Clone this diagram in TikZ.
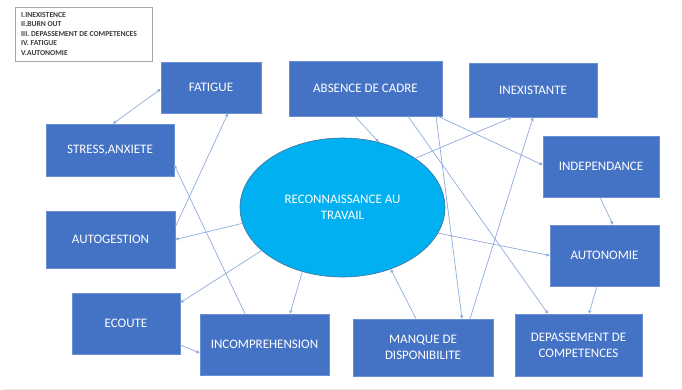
\documentclass[tikz,border=0pt]{standalone}
\usepackage{fontspec}
\setmainfont{Carlito}
\usetikzlibrary{arrows.meta,shapes.geometric}
\definecolor{boxblue}{HTML}{4472C4}
\definecolor{boxedge}{HTML}{6A8FD4}
\definecolor{elfill}{HTML}{00B0F0}
\definecolor{eledge}{HTML}{41719C}
\definecolor{linkc}{HTML}{8FAADC}
\definecolor{rulegray}{HTML}{E6E6E6}
\definecolor{legframe}{HTML}{A6A6A6}
\definecolor{legtext}{HTML}{3A3A3A}
\begin{document}
\begin{tikzpicture}[x=1pt,y=-1pt,
  box/.style={draw=boxedge, line width=0.6pt, fill=boxblue, text=white,
    font=\fontsize{13}{16}\selectfont, align=center, inner sep=0pt},
  hub/.style={ellipse, draw=eledge, line width=0.6pt, fill=elfill, text=white,
    font=\fontsize{13}{16}\selectfont, align=center, inner sep=0pt,
    minimum width=205pt, minimum height=139pt},
  link/.style={draw=linkc, line width=0.7pt, -{Triangle[length=3.2pt,width=3.2pt]}},
  biglink/.style={draw=linkc, line width=0.7pt, {Triangle[length=3.2pt,width=3.2pt]}-{Triangle[length=3.2pt,width=3.2pt]}},
  legendbox/.style={draw=legframe, line width=0.6pt, inner sep=0pt},
  legendtext/.style={text=legtext, font=\bfseries\fontsize{7.6}{9.6}\selectfont, align=left, inner sep=0pt}
  ]
\useasboundingbox (0,0) rectangle (682,390);
\draw[rulegray, line width=0.8pt] (5,389) -- (682,389);

% legend
\node[legendbox, minimum width=137pt, minimum height=54pt, anchor=north west] (legend) at (15,7) {};
\node[legendtext, anchor=west] (legtxt) at ([xshift=6pt,yshift=0.5pt]legend.west) {I.INEXISTENCE\\II.BURN OUT\\III. DEPASSEMENT DE COMPETENCES\\IV. FATIGUE\\V.AUTONOMIE};

% boxes
\node[box, minimum width=100pt, minimum height=51pt] (fat) at (211,87.5) {FATIGUE};
\node[box, minimum width=153pt, minimum height=55pt] (abs) at (365.5,88.5) {ABSENCE DE CADRE};
\node[box, minimum width=128pt, minimum height=54pt] (inex) at (533,90) {INEXISTANTE};
\node[box, minimum width=116pt, minimum height=61pt] (indep) at (601,166.5) {INDEPENDANCE};
\node[box, minimum width=109pt, minimum height=61pt] (auto) at (604.5,255.5) {AUTONOMIE};
\node[box, minimum width=127pt, minimum height=62pt] (dep) at (578.5,345) {DEPASSEMENT DE\\COMPETENCES};
\node[box, minimum width=140pt, minimum height=57pt] (manq) at (423,347.5) {MANQUE DE\\DISPONIBILITE};
\node[box, minimum width=129pt, minimum height=61pt] (incomp) at (264.5,344.5) {INCOMPREHENSION};
\node[box, minimum width=108pt, minimum height=61pt] (ecoute) at (126,323.5) {ECOUTE};
\node[box, minimum width=129pt, minimum height=57pt] (autog) at (110.5,239.5) {AUTOGESTION};
\node[box, minimum width=128pt, minimum height=52pt] (stress) at (110,150) {STRESS,ANXIETE};

% central ellipse
\node[hub] (el) at (342.5,207.5) {RECONNAISSANCE AU\\TRAVAIL};

% connectors
\draw[biglink] ([xshift=3pt]stress.north) -- ([yshift=-1.5pt]fat.west);
\draw[link] ([yshift=12.5pt]autog.east) -- ([xshift=17pt]fat.south);
\draw[link] ([xshift=-19.5pt]incomp.north) -- ([yshift=-15pt]stress.east);
\draw[link] (el.189) -- (autog.east);
\draw[link] (el.208) -- ([yshift=-10pt]ecoute.north east);
\draw[link] (el.238) -- ([xshift=25.5pt]incomp.north);
\draw[link] ([yshift=-21.5pt]ecoute.east) -- ([yshift=-8.5pt]incomp.west);
\draw[link] ([xshift=-10.5pt]abs.south) -- (el.61);
\draw[link] ([xshift=42.5pt]abs.south) -- ([xshift=-30.5pt]dep.north);
\draw[link] ([xshift=70.5pt]abs.south) -- ([xshift=39pt]manq.north);
\draw[link] ([xshift=72.5pt]abs.south) -- ([yshift=1.5pt]indep.west);
\draw[link] (el.34) -- ([xshift=-21pt]inex.south);
\draw[link] ([xshift=47pt]manq.north) -- (inex.south);
\draw[link] ([xshift=-1pt]indep.south) -- ([xshift=8.5pt]auto.north);
\draw[link] (el.345) -- (auto.west);
\draw[link] ([xshift=-7.5pt]auto.south) -- ([xshift=10.5pt]dep.north);
\draw[link] ([xshift=-7pt]manq.north) -- (el.308);
\end{tikzpicture}
\end{document}
